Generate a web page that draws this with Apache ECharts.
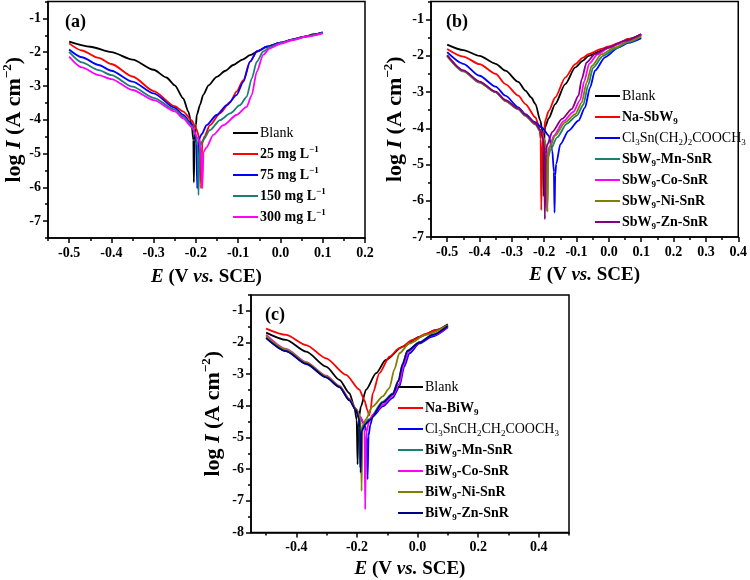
<!DOCTYPE html>
<html><head><meta charset="utf-8">
<script src="https://cdn.jsdelivr.net/npm/echarts@6/dist/echarts.min.js"></script>
<style>html,body{margin:0;padding:0;background:#fff}#c{width:750px;height:580px}</style>
</head><body><div id="c"></div>
<script>
// ---------- Panel (a) data: [E (V vs SCE), log I] ----------
const aBlank = [[-0.5,-1.69],[-0.45,-1.84],[-0.4,-2.0],[-0.35,-2.22],[-0.3,-2.52],[-0.27,-2.75],[-0.25,-2.98],[-0.23,-3.37],[-0.218,-3.76],[-0.21,-4.16],[-0.206,-4.6],[-0.205,-5.85],[-0.203,-4.6],[-0.2,-4.15],[-0.198,-3.86],[-0.19,-3.55],[-0.183,-3.27],[-0.17,-2.98],[-0.151,-2.73],[-0.13,-2.55],[-0.112,-2.38],[-0.09,-2.22],[-0.072,-2.09],[-0.05,-1.95],[-0.033,-1.84],[0,-1.72],[0.03,-1.62],[0.054,-1.55],[0.08,-1.47],[0.1,-1.41]];
const a25 = [[-0.5,-1.74],[-0.47,-1.95],[-0.43,-2.17],[-0.4,-2.35],[-0.35,-2.72],[-0.3,-3.15],[-0.25,-3.6],[-0.23,-3.76],[-0.21,-4.02],[-0.2,-4.25],[-0.19,-4.6],[-0.188,-6.03],[-0.185,-4.7],[-0.18,-4.5],[-0.167,-4.16],[-0.143,-3.81],[-0.119,-3.47],[-0.104,-3.17],[-0.088,-2.83],[-0.072,-2.28],[-0.056,-1.98],[-0.033,-1.84],[0,-1.72],[0.03,-1.62],[0.06,-1.53],[0.1,-1.42]];
const a75 = [[-0.5,-1.92],[-0.47,-2.15],[-0.43,-2.38],[-0.4,-2.55],[-0.35,-2.87],[-0.3,-3.22],[-0.25,-3.65],[-0.23,-3.86],[-0.21,-4.12],[-0.202,-4.4],[-0.199,-4.7],[-0.197,-6.03],[-0.194,-4.6],[-0.186,-4.42],[-0.175,-4.16],[-0.151,-3.86],[-0.127,-3.57],[-0.104,-3.27],[-0.088,-2.88],[-0.072,-2.28],[-0.056,-1.98],[-0.033,-1.84],[0,-1.72],[0.03,-1.62],[0.06,-1.53],[0.1,-1.42]];
const a150 = [[-0.5,-1.99],[-0.47,-2.3],[-0.43,-2.53],[-0.4,-2.68],[-0.35,-3.02],[-0.3,-3.35],[-0.25,-3.7],[-0.23,-3.91],[-0.21,-4.18],[-0.2,-4.45],[-0.196,-4.75],[-0.194,-6.23],[-0.191,-4.8],[-0.183,-4.6],[-0.167,-4.31],[-0.143,-4.01],[-0.119,-3.81],[-0.096,-3.57],[-0.08,-3.32],[-0.068,-2.78],[-0.056,-2.28],[-0.041,-1.98],[-0.025,-1.85],[0,-1.73],[0.03,-1.63],[0.06,-1.53],[0.1,-1.43]];
const a300 = [[-0.5,-2.13],[-0.47,-2.45],[-0.43,-2.68],[-0.4,-2.8],[-0.35,-3.12],[-0.3,-3.42],[-0.25,-3.75],[-0.23,-3.96],[-0.21,-4.22],[-0.195,-4.55],[-0.188,-4.85],[-0.185,-6.03],[-0.182,-4.95],[-0.175,-4.82],[-0.159,-4.45],[-0.135,-4.16],[-0.104,-3.86],[-0.08,-3.62],[-0.068,-3.27],[-0.056,-2.58],[-0.041,-2.08],[-0.025,-1.89],[0,-1.75],[0.03,-1.64],[0.06,-1.54],[0.1,-1.44]];

// ---------- Panel (b) data ----------
const bBlank = [[-0.5,-1.69],[-0.45,-1.84],[-0.4,-2.0],[-0.35,-2.22],[-0.32,-2.41],[-0.28,-2.72],[-0.258,-2.96],[-0.24,-3.15],[-0.227,-3.33],[-0.212,-3.79],[-0.205,-4.1],[-0.202,-5.87],[-0.199,-4.1],[-0.197,-3.96],[-0.186,-3.72],[-0.166,-3.33],[-0.135,-2.78],[-0.104,-2.32],[-0.08,-2.13],[-0.063,-2.0],[-0.023,-1.86],[0,-1.77],[0.029,-1.67],[0.06,-1.54],[0.1,-1.41]];
const bNa = [[-0.5,-1.81],[-0.45,-2.02],[-0.4,-2.23],[-0.35,-2.5],[-0.32,-2.78],[-0.28,-3.1],[-0.258,-3.33],[-0.227,-3.7],[-0.215,-3.98],[-0.211,-4.3],[-0.209,-6.26],[-0.206,-4.3],[-0.2,-4.07],[-0.197,-3.79],[-0.186,-3.52],[-0.166,-3.15],[-0.135,-2.6],[-0.104,-2.23],[-0.08,-2.05],[-0.063,-1.95],[-0.023,-1.81],[0,-1.74],[0.029,-1.65],[0.06,-1.53],[0.1,-1.41]];
const bCl = [[-0.5,-1.9],[-0.45,-2.22],[-0.4,-2.55],[-0.35,-2.85],[-0.32,-3.1],[-0.28,-3.42],[-0.258,-3.61],[-0.23,-3.82],[-0.207,-3.98],[-0.186,-4.2],[-0.175,-4.62],[-0.17,-5.2],[-0.168,-6.33],[-0.166,-5.3],[-0.163,-4.99],[-0.15,-4.44],[-0.125,-4.07],[-0.094,-3.79],[-0.074,-3.43],[-0.058,-2.87],[-0.043,-2.41],[-0.012,-2.04],[0.029,-1.77],[0.06,-1.64],[0.1,-1.51]];
const bMn = [[-0.5,-2.0],[-0.45,-2.43],[-0.4,-2.74],[-0.35,-3.01],[-0.32,-3.25],[-0.28,-3.48],[-0.258,-3.66],[-0.227,-3.9],[-0.212,-4.08],[-0.2,-4.3],[-0.193,-4.6],[-0.191,-6.3],[-0.188,-4.8],[-0.181,-4.6],[-0.16,-4.25],[-0.13,-3.87],[-0.099,-3.65],[-0.079,-3.35],[-0.064,-2.8],[-0.049,-2.33],[-0.018,-2.0],[0.02,-1.8],[0.06,-1.62],[0.1,-1.47]];
const bCo = [[-0.5,-1.99],[-0.45,-2.41],[-0.4,-2.72],[-0.35,-3.0],[-0.32,-3.23],[-0.28,-3.46],[-0.258,-3.64],[-0.227,-3.87],[-0.212,-4.06],[-0.2,-4.3],[-0.195,-4.6],[-0.193,-6.2],[-0.19,-4.7],[-0.183,-4.5],[-0.17,-4.2],[-0.14,-3.8],[-0.11,-3.55],[-0.089,-3.22],[-0.076,-2.7],[-0.061,-2.22],[-0.035,-1.96],[0,-1.77],[0.05,-1.6],[0.1,-1.43]];
const bNi = [[-0.5,-2.01],[-0.45,-2.42],[-0.4,-2.73],[-0.35,-3.0],[-0.32,-3.24],[-0.28,-3.47],[-0.258,-3.65],[-0.227,-3.88],[-0.212,-4.07],[-0.2,-4.3],[-0.192,-4.6],[-0.19,-6.3],[-0.187,-4.75],[-0.184,-4.55],[-0.166,-4.2],[-0.135,-3.83],[-0.104,-3.61],[-0.084,-3.29],[-0.069,-2.74],[-0.053,-2.28],[-0.023,-1.96],[0.018,-1.77],[0.06,-1.6],[0.1,-1.46]];
const bZn = [[-0.5,-1.98],[-0.45,-2.4],[-0.4,-2.71],[-0.35,-2.99],[-0.32,-3.22],[-0.28,-3.45],[-0.258,-3.63],[-0.227,-3.86],[-0.212,-4.05],[-0.203,-4.3],[-0.2,-4.7],[-0.198,-6.51],[-0.195,-4.7],[-0.191,-4.46],[-0.175,-4.1],[-0.145,-3.74],[-0.115,-3.47],[-0.094,-3.1],[-0.084,-2.64],[-0.069,-2.18],[-0.043,-1.95],[-0.002,-1.77],[0.05,-1.58],[0.1,-1.4]];

// ---------- Panel (c) data ----------
const cBlank = [[-0.5,-1.69],[-0.434,-1.92],[-0.368,-2.29],[-0.302,-2.76],[-0.258,-3.18],[-0.225,-3.6],[-0.209,-4.02],[-0.201,-4.44],[-0.198,-5.85],[-0.195,-4.44],[-0.187,-4.02],[-0.17,-3.49],[-0.137,-2.97],[-0.105,-2.55],[-0.049,-2.13],[0.006,-1.82],[0.06,-1.61],[0.1,-1.42]];
const cNa = [[-0.5,-1.56],[-0.434,-1.76],[-0.368,-2.08],[-0.302,-2.5],[-0.236,-3.02],[-0.192,-3.49],[-0.176,-3.81],[-0.165,-4.15],[-0.16,-4.3],[-0.155,-4.1],[-0.148,-3.6],[-0.126,-2.97],[-0.093,-2.45],[-0.06,-2.18],[-0.016,-1.92],[0.03,-1.72],[0.06,-1.6],[0.1,-1.47]];
const cCl = [[-0.5,-1.85],[-0.434,-2.27],[-0.368,-2.68],[-0.302,-3.1],[-0.258,-3.4],[-0.225,-3.82],[-0.203,-4.13],[-0.19,-4.35],[-0.178,-4.55],[-0.168,-4.8],[-0.165,-6.32],[-0.162,-4.95],[-0.156,-4.6],[-0.148,-4.33],[-0.115,-4.02],[-0.082,-3.75],[-0.06,-3.39],[-0.044,-2.76],[-0.027,-2.34],[0.006,-2.03],[0.049,-1.81],[0.1,-1.52]];
const cMn = [[-0.5,-1.82],[-0.434,-2.24],[-0.368,-2.65],[-0.302,-3.08],[-0.258,-3.39],[-0.225,-3.81],[-0.203,-4.12],[-0.194,-4.35],[-0.192,-4.6],[-0.19,-5.95],[-0.187,-4.75],[-0.175,-4.55],[-0.16,-4.42],[-0.115,-3.87],[-0.082,-3.61],[-0.063,-3.19],[-0.049,-2.67],[-0.033,-2.25],[0.006,-1.99],[0.05,-1.75],[0.1,-1.48]];
const cCo = [[-0.5,-1.75],[-0.434,-2.2],[-0.368,-2.62],[-0.302,-3.05],[-0.258,-3.37],[-0.225,-3.78],[-0.203,-4.1],[-0.19,-4.33],[-0.18,-4.5],[-0.175,-4.75],[-0.173,-7.27],[-0.17,-4.85],[-0.16,-4.5],[-0.148,-4.28],[-0.115,-3.97],[-0.082,-3.68],[-0.06,-3.3],[-0.046,-2.7],[-0.03,-2.28],[0.006,-2.0],[0.05,-1.77],[0.1,-1.5]];
const cNi = [[-0.5,-1.8],[-0.434,-2.22],[-0.368,-2.63],[-0.302,-3.06],[-0.258,-3.38],[-0.225,-3.8],[-0.203,-4.1],[-0.192,-4.3],[-0.187,-4.6],[-0.185,-6.69],[-0.182,-4.7],[-0.172,-4.44],[-0.148,-4.02],[-0.115,-3.7],[-0.093,-3.44],[-0.077,-2.86],[-0.06,-2.34],[-0.027,-2.03],[0.027,-1.76],[0.1,-1.45]];
const cZn = [[-0.5,-1.86],[-0.434,-2.27],[-0.368,-2.67],[-0.302,-3.1],[-0.258,-3.41],[-0.225,-3.83],[-0.203,-4.14],[-0.194,-4.4],[-0.19,-4.7],[-0.188,-6.11],[-0.185,-4.8],[-0.172,-4.58],[-0.158,-4.45],[-0.115,-3.9],[-0.082,-3.63],[-0.063,-3.22],[-0.05,-2.7],[-0.034,-2.27],[0.006,-2.0],[0.05,-1.76],[0.1,-1.48]];

// ---------- names ----------
const aNames = ['Blank','25 mg L-1','75 mg L-1','150 mg L-1','300 mg L-1'];
const bNames = ['Blank','Na-SbW9','Cl3Sn(CH2)2COOCH3','SbW9-Mn-SnR','SbW9-Co-SnR','SbW9-Ni-SnR','SbW9-Zn-SnR'];
const cNames = ['Blank','Na-BiW9','Cl3SnCH2CH2COOCH3','BiW9-Mn-SnR','BiW9-Co-SnR','BiW9-Ni-SnR','BiW9-Zn-SnR'];

// ---------- axis ticks ----------
const aXTicks = [-0.5,-0.4,-0.3,-0.2,-0.1,0,0.1,0.2];
const aXMinor = [-0.55,-0.45,-0.35,-0.25,-0.15,-0.05,0.05,0.15];
const aYTicks = [-7,-6,-5,-4,-3,-2,-1];
const aYMinor = [-7.5,-6.5,-5.5,-4.5,-3.5,-2.5,-1.5,-0.5];
const bXTicks = [-0.5,-0.4,-0.3,-0.2,-0.1,0,0.1,0.2,0.3,0.4];
const bXMinor = [-0.55,-0.45,-0.35,-0.25,-0.15,-0.05,0.05,0.15,0.25,0.35];
const bYTicks = [-7,-6,-5,-4,-3,-2,-1];
const bYMinor = [-6.5,-5.5,-4.5,-3.5,-2.5,-1.5,-0.5];
const cXTicks = [-0.4,-0.2,0,0.2,0.4];
const cXMinor = [-0.5,-0.3,-0.1,0.1,0.3,0.5];
const cYTicks = [-8,-7,-6,-5,-4,-3,-2,-1];
const cYMinor = [-7.5,-6.5,-5.5,-4.5,-3.5,-2.5,-1.5,-0.5];

const FONT = "'Liberation Serif','Times New Roman',serif";
const legendLabels = {
  'Blank':'{r|Blank}',
  '25 mg L-1':'{b|25 mg L}{bsup|−1}',
  '75 mg L-1':'{b|75 mg L}{bsup|−1}',
  '150 mg L-1':'{b|150 mg L}{bsup|−1}',
  '300 mg L-1':'{b|300 mg L}{bsup|−1}',
  'Na-SbW9':'{b|Na-SbW}{bsub|9}',
  'Cl3Sn(CH2)2COOCH3':'{r|Cl}{rsub|3}{r|Sn(CH}{rsub|2}{r|)}{rsub|2}{r|COOCH}{rsub|3}',
  'SbW9-Mn-SnR':'{b|SbW}{bsub|9}{b|-Mn-SnR}',
  'SbW9-Co-SnR':'{b|SbW}{bsub|9}{b|-Co-SnR}',
  'SbW9-Ni-SnR':'{b|SbW}{bsub|9}{b|-Ni-SnR}',
  'SbW9-Zn-SnR':'{b|SbW}{bsub|9}{b|-Zn-SnR}',
  'Na-BiW9':'{b|Na-BiW}{bsub|9}',
  'Cl3SnCH2CH2COOCH3':'{r|Cl}{rsub|3}{r|SnCH}{rsub|2}{r|CH}{rsub|2}{r|COOCH}{rsub|3}',
  'BiW9-Mn-SnR':'{b|BiW}{bsub|9}{b|-Mn-SnR}',
  'BiW9-Co-SnR':'{b|BiW}{bsub|9}{b|-Co-SnR}',
  'BiW9-Ni-SnR':'{b|BiW}{bsub|9}{b|-Ni-SnR}',
  'BiW9-Zn-SnR':'{b|BiW}{bsub|9}{b|-Zn-SnR}'
};
const legRich = {
  r:{fontFamily:FONT,fontSize:14,fontWeight:'normal',color:'#000',lineHeight:18},
  b:{fontFamily:FONT,fontSize:14,fontWeight:'bold',color:'#000',lineHeight:18},
  bsup:{fontFamily:FONT,fontSize:9,fontWeight:'bold',color:'#000',lineHeight:8,verticalAlign:'top'},
  bsub:{fontFamily:FONT,fontSize:9,fontWeight:'bold',color:'#000',lineHeight:11,verticalAlign:'bottom'},
  rsub:{fontFamily:FONT,fontSize:9,fontWeight:'normal',color:'#000',lineHeight:11,verticalAlign:'bottom'}
};
const nameRich = {
  b:{fontFamily:FONT,fontSize:19,fontWeight:'bold',color:'#000',lineHeight:24},
  bi:{fontFamily:FONT,fontSize:19,fontWeight:'bold',fontStyle:'italic',color:'#000',lineHeight:24},
  yb:{fontFamily:FONT,fontSize:22,fontWeight:'bold',color:'#000',lineHeight:26},
  ybi:{fontFamily:FONT,fontSize:22,fontWeight:'bold',fontStyle:'italic',color:'#000',lineHeight:26},
  ysup:{fontFamily:FONT,fontSize:13,fontWeight:'bold',color:'#000',lineHeight:10,verticalAlign:'top'}
};
const X_NAME = '{bi|E}{b| (V }{bi|vs.}{b| SCE)}';
const Y_NAME = '{yb|log }{ybi|I}{yb| (A cm}{ysup|−2}{yb|)}';
const tickFont = {fontFamily:FONT,fontSize:14,fontWeight:'bold',color:'#000'};
const lineBlack = {color:'#000',width:1.5};

function xAxes(gi,min,max,ticks,minor,gap){
  return [{type:'value',gridIndex:gi,min:min,max:max,position:'bottom',
    axisLine:{show:true,onZero:false,lineStyle:lineBlack},
    axisTick:{show:true,inside:false,length:5,customValues:ticks,lineStyle:lineBlack},
    axisLabel:Object.assign({show:true,margin:8,customValues:ticks,formatter:v=>v.toFixed(1)},tickFont),
    splitLine:{show:false},
    name:X_NAME,nameLocation:'middle',nameGap:gap,nameTextStyle:{rich:nameRich}},
   {type:'value',gridIndex:gi,min:min,max:max,position:'bottom',
    axisLine:{show:false,onZero:false},
    axisTick:{show:true,inside:false,length:3,customValues:minor,lineStyle:lineBlack},
    axisLabel:{show:false},splitLine:{show:false}}];
}
function yAxes(gi,min,max,ticks,minor,gap){
  return [{type:'value',gridIndex:gi,min:min,max:max,position:'left',
    axisLine:{show:true,onZero:false,lineStyle:lineBlack},
    axisTick:{show:true,inside:false,length:5,customValues:ticks,lineStyle:lineBlack},
    axisLabel:Object.assign({show:true,margin:7,customValues:ticks,formatter:v=>String(v)},tickFont),
    splitLine:{show:false},
    name:Y_NAME,nameLocation:'middle',nameGap:gap,nameRotate:90,nameTextStyle:{rich:nameRich}},
   {type:'value',gridIndex:gi,min:min,max:max,position:'left',
    axisLine:{show:false,onZero:false},
    axisTick:{show:true,inside:false,length:3,customValues:minor,lineStyle:lineBlack},
    axisLabel:{show:false},splitLine:{show:false}}];
}

const COL = {black:'#000000',red:'#ff0000',blue:'#0000ff',teal:'#1a8073',mag:'#ff00ff',olive:'#808000',purple:'#800080',navy:'#000080'};
function ser(name,data,color,axIdx){
  return {type:'line',name:name,data:data,xAxisIndex:axIdx,yAxisIndex:axIdx,
    showSymbol:false,symbol:'none',smooth:0.25,smoothMonotone:'x',
    color:color,itemStyle:{color:color},lineStyle:{color:color,width:1.8},animation:false,z:2};
}
const series = [
  ser(aNames[0],aBlank,COL.black,0), ser(aNames[1],a25,COL.red,0), ser(aNames[2],a75,COL.blue,0),
  ser(aNames[3],a150,COL.teal,0), ser(aNames[4],a300,COL.mag,0),
  ser(bNames[0],bBlank,COL.black,2), ser(bNames[1],bNa,COL.red,2), ser(bNames[2],bCl,COL.blue,2),
  ser(bNames[3],bMn,COL.teal,2), ser(bNames[4],bCo,COL.mag,2), ser(bNames[5],bNi,COL.olive,2), ser(bNames[6],bZn,COL.purple,2),
  ser(cNames[0],cBlank,COL.black,4), ser(cNames[1],cNa,COL.red,4), ser(cNames[2],cCl,COL.blue,4),
  ser(cNames[3],cMn,COL.teal,4), ser(cNames[4],cCo,COL.mag,4), ser(cNames[5],cNi,COL.olive,4), ser(cNames[6],cZn,COL.navy,4)
];
function leg(names,left,top){
  return {data:names,left:left,top:top,orient:'vertical',itemWidth:25,itemHeight:2,itemGap:3,icon:'rect',padding:0,
    selectedMode:false,formatter:n=>legendLabels[n],
    textStyle:{fontFamily:FONT,fontSize:14,color:'#000',lineHeight:18,padding:[0,0,0,-3],rich:legRich}};
}
const gridStyle = {show:true,borderColor:'#000',borderWidth:1.5,backgroundColor:'transparent',containLabel:false};
const option = {
  backgroundColor:'#fff',
  animation:false,
  grid:[
    Object.assign({left:48,top:1.5,width:317,height:236.5},gridStyle),
    Object.assign({left:431,top:1.5,width:310,height:235.5},gridStyle),
    Object.assign({left:251,top:295,width:318,height:238.5},gridStyle)
  ],
  xAxis:[].concat(xAxes(0,-0.55,0.2,aXTicks,aXMinor,27),xAxes(1,-0.55,0.4,bXTicks,bXMinor,26),xAxes(2,-0.55,0.5,cXTicks,cXMinor,25)),
  yAxis:[].concat(yAxes(0,-7.5,-0.5,aYTicks,aYMinor,15),yAxes(1,-7,-0.5,bYTicks,bYMinor,23),yAxes(2,-8,-0.5,cYTicks,cYMinor,25)),
  legend:[leg(aNames,233,124),leg(bNames,595,87),leg(cNames,398,378)],
  graphic:[
    {type:'text',left:65,top:13,style:{text:'(a)',font:"bold 18px 'Liberation Serif'",fill:'#000'}},
    {type:'text',left:446,top:13,style:{text:'(b)',font:"bold 18px 'Liberation Serif'",fill:'#000'}},
    {type:'text',left:265,top:306,style:{text:'(c)',font:"bold 18px 'Liberation Serif'",fill:'#000'}}
  ],
  series:series
};
const chart = echarts.init(document.getElementById('c'),null,{renderer:'canvas'});
chart.setOption(option);
</script></body></html>
